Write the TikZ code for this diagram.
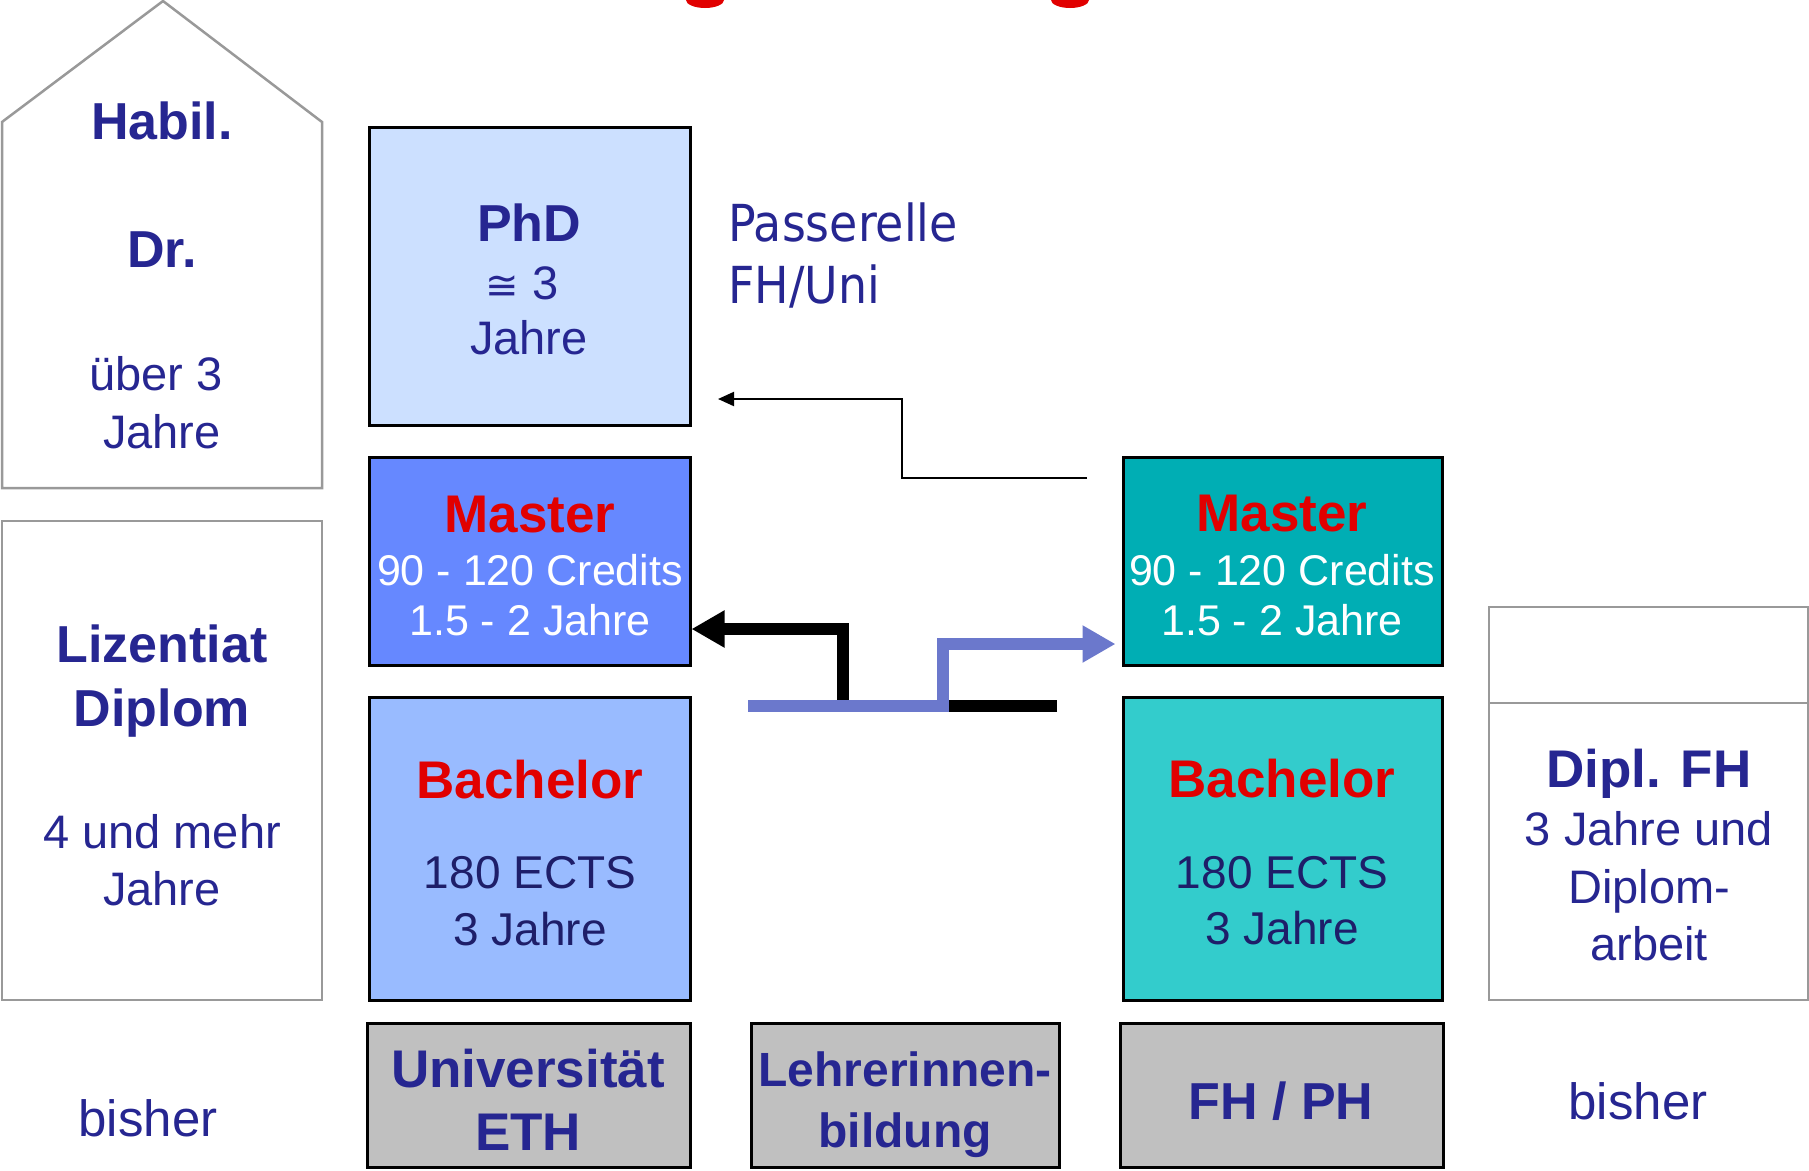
\documentclass[tikz,border=0pt]{standalone}
\usepackage{fontspec}
\setmainfont{Liberation Sans}
\newfontfamily\passfont[FakeStretch=0.9]{DejaVu Sans}
\newfontfamily\symfont{DejaVu Sans}
\usepackage{xcolor}
\usetikzlibrary{arrows.meta}

\definecolor{txtblue}{RGB}{38,38,145}
\definecolor{darknavy}{RGB}{30,30,105}
\definecolor{mred}{RGB}{225,0,0}
\definecolor{phdfill}{RGB}{204,224,255}
\definecolor{mastLfill}{RGB}{102,136,255}
\definecolor{bachLfill}{RGB}{153,187,255}
\definecolor{mastRfill}{RGB}{0,174,180}
\definecolor{bachRfill}{RGB}{51,204,204}
\definecolor{boxgray}{RGB}{192,192,192}
\definecolor{framegray}{RGB}{153,153,153}
\definecolor{lineblue}{RGB}{107,120,204}

\begin{document}
\begin{tikzpicture}[x=1pt,y=-1pt,
 box/.style={draw=black,line width=3pt,inner sep=0pt},
 oldbox/.style={draw=framegray,line width=2.5pt,inner sep=0pt},
 lbl/.style={anchor=base,inner sep=0pt,text=txtblue,font=\fontsize{47}{56}\selectfont},
 hd/.style={lbl,font=\bfseries\fontsize{52}{60}\selectfont},
 rhd/.style={lbl,text=mred,font=\bfseries\fontsize{53}{60}\selectfont},
 wl/.style={lbl,text=white,font=\fontsize{43}{50}\selectfont},
 dl/.style={lbl,text=darknavy,font=\fontsize{46}{54}\selectfont},
 thick arrow/.style={line width=12pt,line join=miter,-{Triangle[length=33pt,width=35pt]}}]
 \useasboundingbox (0,0) rectangle (1809,1170);
 \fill[white] (0,0) rectangle (1809,1170);

 \begin{scope}
  \clip (0,0) rectangle (1809,20);
  \fill[mred] (705,0) ellipse [x radius=19, y radius=8];
  \fill[mred] (1070,0) ellipse [x radius=19, y radius=8];
 \end{scope}

 \draw[framegray,line width=2.5pt,line join=miter] (2,488) -- (2,122) -- (163,1) -- (322,122) -- (322,488) -- cycle;
 \node[oldbox,minimum width=320pt,minimum height=479pt] (liz) at (162,760.5) {};
 \node[oldbox,minimum width=319pt,minimum height=96pt] (dipltop) at (1648.5,655) {};
 \node[oldbox,minimum width=319pt,minimum height=297pt] (dipl) at (1648.5,851.5) {};

 \node[box,fill=phdfill,minimum width=321pt,minimum height=298pt] (phd) at (529.5,276) {};
 \node[box,fill=mastLfill,minimum width=321pt,minimum height=208pt] (mastL) at (529.5,561) {};
 \node[box,fill=bachLfill,minimum width=321pt,minimum height=303pt] (bachL) at (529.5,848.5) {};
 \node[box,fill=mastRfill,minimum width=319pt,minimum height=208pt] (mastR) at (1282.5,561) {};
 \node[box,fill=bachRfill,minimum width=319pt,minimum height=303pt] (bachR) at (1282.5,848.5) {};
 \node[box,fill=boxgray,minimum width=323pt,minimum height=144pt] (uni) at (528.5,1095) {};
 \node[box,fill=boxgray,minimum width=308pt,minimum height=144pt] (lehr) at (905,1095) {};
 \node[box,fill=boxgray,minimum width=323pt,minimum height=144pt] (fhph) at (1281.5,1095) {};

 \node[hd] (habil) at (162,139) {Habil.};
 \node[hd] (dr) at (162,267) {Dr.};
 \node[lbl] (uber) at (156,390) {über 3};
 \node[lbl] (uberB) at (162,448) {Jahre};

 \node[hd] (lizA) at (162,662) {Lizentiat};
 \node[hd] (lizB) at (162,726) {Diplom};
 \node[lbl] (lizC) at (162,848) {4 und mehr};
 \node[lbl] (lizD) at (162,905) {Jahre};

 \node[hd] (phdA) at (529,241) {PhD};
 \node[lbl] (phdB) at (522,299) {{\symfont\fontsize{40}{48}\selectfont ≅} 3};
 \node[lbl] (phdC) at (529,354) {Jahre};

 \node[anchor=base west,inner sep=0pt,text=txtblue,font=\passfont\fontsize{51}{60}\selectfont] (passA) at (728,241) {Passerelle};
 \node[anchor=base west,inner sep=0pt,text=txtblue,font=\passfont\fontsize{51}{60}\selectfont] (passB) at (728,303) {FH/Uni};

 \node[rhd] (mastLA) at (530,532) {Master};
 \node[wl] (mastLB) at (530,585) {90 - 120 Credits};
 \node[wl] (mastLC) at (530,635) {1.5 - 2 Jahre};
 \node[rhd] (bachLA) at (530,798) {Bachelor};
 \node[dl] (bachLB) at (530,888) {180 ECTS};
 \node[dl] (bachLC) at (530,945) {3 Jahre};

 \node[rhd] (mastRA) at (1282,531) {Master};
 \node[wl] (mastRB) at (1282,585) {90 - 120 Credits};
 \node[wl] (mastRC) at (1282,635) {1.5 - 2 Jahre};
 \node[rhd] (bachRA) at (1282,797) {Bachelor};
 \node[dl] (bachRB) at (1282,888) {180 ECTS};
 \node[dl] (bachRC) at (1282,944) {3 Jahre};

 \node[hd,font=\bfseries\fontsize{53}{60}\selectfont] (diplA) at (1649,787) {Dipl. FH};
 \node[lbl] (diplB) at (1649,845) {3 Jahre und};
 \node[lbl] (diplC) at (1649,903) {Diplom-};
 \node[lbl] (diplD) at (1649,960) {arbeit};

 \node[hd,font=\bfseries\fontsize{53}{60}\selectfont] (uniA) at (528,1087) {Universität};
 \node[hd,font=\bfseries\fontsize{53}{60}\selectfont] (uniB) at (528,1150) {ETH};
 \node[hd,font=\bfseries\fontsize{48}{56}\selectfont] (lehrA) at (905,1086) {Lehrerinnen-};
 \node[hd,font=\bfseries\fontsize{48}{56}\selectfont] (lehrB) at (905,1147) {bildung};
 \node[hd,font=\bfseries\fontsize{52}{60}\selectfont] (fhphA) at (1281,1119) {FH / PH};

 \node[lbl,font=\fontsize{51}{60}\selectfont] (bisherL) at (148,1136) {bisher};
 \node[lbl,font=\fontsize{51}{60}\selectfont] (bisherR) at (1638,1119) {bisher};

 \coordinate (pA) at (1087,478);
 \coordinate (pB) at (718,399);
 \draw[line width=2pt,line join=miter,-{Triangle[length=16pt,width=14pt]}] (pA) -- ++(-185,0) |- (pB);

 \coordinate (bA) at (1057,706);
 \draw[black,thick arrow] (bA) -- ++(-214,0) |- ([yshift=-68pt]mastL.east);
 \coordinate (uA) at (748,706);
 \draw[lineblue,thick arrow] (uA) -- ++(195,0) |- ([yshift=-83pt,xshift=-6pt]mastR.west);
\end{tikzpicture}
\end{document}
